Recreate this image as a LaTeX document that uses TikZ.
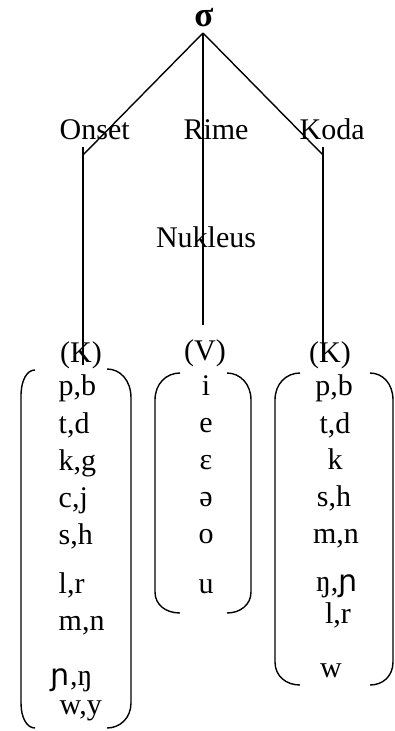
\documentclass[tikz,border=0pt]{standalone}
\usepackage{fontspec}
\setmainfont{Liberation Serif}
\newfontfamily\ipasans{DejaVu Sans}
\begin{document}
\begin{tikzpicture}[x=1pt,y=-1pt,line width=1.4pt,
  lbl/.style={inner sep=0pt,font=\fontsize{30}{36}\selectfont,anchor=base},
  lblw/.style={lbl,anchor=base west},
  brk/.style={line width=1.4pt}]
\useasboundingbox (0,0) rectangle (394,731);
% tree
\node[lbl,font=\fontsize{35}{40}\selectfont\bfseries] (sig) at (204,26) {σ};
\node[lblw] (onset) at (59,139) {Onset};
\node[lbl] (rime) at (216,139) {Rime};
\node[lblw] (koda) at (299,139) {Koda};
\node[lbl] (nuk) at (206,247) {Nukleus};
\node[lbl] (ok) at (81,362) {(K)};
\node[lbl] (vv) at (205,360) {(V)};
\node[lbl] (kk) at (330,362) {(K)};
\coordinate (apex) at (203,33);
\coordinate (oc) at (83,155);
\coordinate (kc) at (323,155);
\coordinate (ot) at (83,147);
\coordinate (ob) at (83,365);
\coordinate (mb) at (203,325);
\coordinate (kt) at (323,147);
\coordinate (kb) at (323,362);
\draw (apex) -- (oc);
\draw (apex) -- (kc);
\draw (apex) -- (mb);
\draw (ot) -- (ob);
\draw (kt) -- (kb);
% brackets
\draw[brk] (35,370) .. controls (27,370) and (21,380) .. (21,396) -- (21,703) .. controls (21,718) and (27,728) .. (35,728);
\draw[brk] (107,369) .. controls (120,369) and (131,380) .. (131,398) -- (131,703) .. controls (131,718) and (120,728) .. (107,728);
\draw[brk] (180,373) .. controls (166,373) and (155,384) .. (155,400) -- (155,592) .. controls (155,605) and (166,613) .. (180,613);
\draw[brk] (227,373) .. controls (240,373) and (251,384) .. (251,400) -- (251,592) .. controls (251,605) and (240,613) .. (227,613);
\draw[brk] (300,373) .. controls (286,373) and (275,384) .. (275,400) -- (275,662) .. controls (275,676) and (286,685) .. (300,685);
\draw[brk] (370,373) .. controls (383,373) and (393,384) .. (393,400) -- (393,662) .. controls (393,676) and (383,685) .. (370,685);
% onset column
\node[lblw] (o1) at (58,395) {p,b};
\node[lblw] (o2) at (58,433) {t,d};
\node[lblw] (o3) at (58,470) {k,g};
\node[lblw] (o4) at (58,507) {c,j};
\node[lblw] (o5) at (58,544) {s,h};
\node[lblw] (o6) at (58,593) {l,r};
\node[lblw] (o7) at (58,630) {m,n};
\node[lblw] (o8) at (50,685) {{\ipasans ɲ},ŋ};
\node[lblw] (o9) at (59,714) {w,y};
% vowel column
\node[lbl] (v1) at (206,395) {i};
\node[lbl] (v2) at (206,432) {e};
\node[lbl] (v3) at (206,469) {ɛ};
\node[lbl] (v4) at (206,506) {ə};
\node[lbl] (v5) at (206,543) {o};
\node[lbl] (v6) at (206,593) {u};
% koda column
\node[lbl] (k1) at (334,395) {p,b};
\node[lbl] (k2) at (335,433) {t,d};
\node[lbl] (k3) at (335,469) {k};
\node[lbl] (k4) at (334,506) {s,h};
\node[lbl] (k5) at (336,543) {m,n};
\node[lbl] (k6) at (337,591) {ŋ,{\ipasans ɲ}};
\node[lbl] (k7) at (338,623) {l,r};
\node[lbl] (k8) at (331,677) {w};
\end{tikzpicture}
\end{document}
